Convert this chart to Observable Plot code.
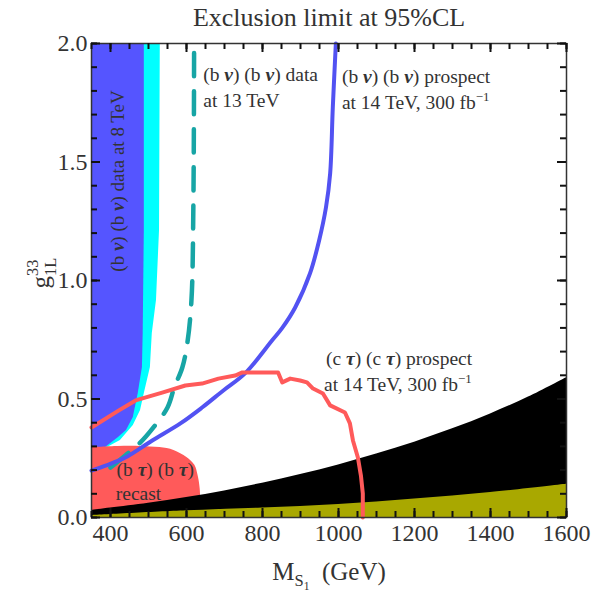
<!DOCTYPE html>
<html><head><meta charset="utf-8">
<script src="https://cdn.jsdelivr.net/npm/d3@7"></script>
<script src="https://cdn.jsdelivr.net/npm/@observablehq/plot@0.6"></script>
<style>
body{margin:0;background:#fff}
svg{font-family:"Liberation Serif",serif}
</style>
</head><body><div id="chart"></div>
<script>
// ---- axes ----
const xDomain = [350, 1600];
const yDomain = [0, 2];
const xMajorTicks = [400, 600, 800, 1000, 1200, 1400, 1600];
const xMinorTicks = [350, 400, 450, 500, 550, 600, 650, 700, 750, 800, 850, 900, 950, 1000, 1050, 1100, 1150, 1200, 1250, 1300, 1350, 1400, 1450, 1500, 1550, 1600];
const yMajorTicks = [0, 0.5, 1, 1.5, 2];
const yMinorTicks = [0, 0.1, 0.2, 0.3, 0.4, 0.5, 0.6, 0.7, 0.8, 0.9, 1, 1.1, 1.2, 1.3, 1.4, 1.5, 1.6, 1.7, 1.8, 1.9, 2];

// ---- (b nu)(b nu) data at 8 TeV: excluded region boundary (coupling, mass) ----
const data8Coupling = [0.274, 0.295, 0.338, 0.367, 0.422, 0.523, 0.633, 0.776, 1.211, 2.0];
const data8Mass     = [350,   387,   421,   442,   460,   473,   484,   486,   489,   489];
// cyan band around the 8 TeV limit
const band8Coupling = [0.274, 0.291, 0.325, 0.388, 0.451, 0.523, 0.633, 0.776, 0.916, 1.211, 2.0];
const band8Mass     = [350,   387,   426,   460,   479,   489,   505,   510,   521,   529,   531];

// ---- (b nu)(b nu) data at 13 TeV (dashed) ----
const data13Mass     = [400,   439,   476,   513,   550,   568,   589,   602,   613,   618,   620];
const data13Coupling = [0.211, 0.262, 0.312, 0.380, 0.464, 0.549, 0.633, 0.734, 0.916, 1.308, 2.0];

// ---- (b nu)(b nu) prospect at 14 TeV ----
const bnuProspMass     = [350,   387,   439,   510,   584,   641,   697,   754,   825,   852,   886,   925,   949,   967,   978,   985,   993];
const bnuProspCoupling = [0.198, 0.219, 0.253, 0.325, 0.397, 0.464, 0.536, 0.608, 0.747, 0.800, 0.886, 1.030, 1.169, 1.308, 1.451, 1.730, 2.0];

// ---- (c tau)(c tau) prospect at 14 TeV ----
const ctauMass     = [350,   421,   466,   536,   597,   641,   684,   728,   747,   802,   841,   852,   873,   899,   917,   933,   959,   978,   1017,  1030,  1038,  1051,  1059,  1064,  1064];
const ctauCoupling = [0.380, 0.451, 0.494, 0.527, 0.557, 0.565, 0.586, 0.599, 0.612, 0.612, 0.612, 0.570, 0.586, 0.578, 0.570, 0.544, 0.523, 0.473, 0.443, 0.397, 0.325, 0.253, 0.177, 0.101, 0.0];

// ---- (b tau)(b tau) recast excluded region ----
const btauMass     = [350,   420,   480,   530,   567,   601,   622,   630,  636,  638];
const btauCoupling = [0.295, 0.300, 0.300, 0.295, 0.283, 0.253, 0.220, 0.180, 0.120, 0.0];

// ---- black region (bottom) ----
const blackMass     = [350,  400,  500,  600,   700,   800,   900,   1000,  1100,  1200,  1300,  1400,  1500,  1600];
const blackCoupling = [0.030, 0.040, 0.060, 0.084, 0.112, 0.145, 0.181, 0.222, 0.268, 0.318, 0.374, 0.437, 0.508, 0.590];

// ---- olive region (bottom) ----
const oliveMass     = [350,   600,   800,  1000,  1200,  1400,  1600];
const oliveCoupling = [0.008, 0.028, 0.04, 0.055, 0.078, 0.105, 0.14];

// ---- annotations ----
const labels = [
  {t: "(b *ν*) (b *ν*) data", x: 644, y: 1.87},
  {t: "at 13 TeV", x: 644, y: 1.76},
  {t: "(b *ν*) (b *ν*) prospect", x: 1009, y: 1.86},
  {t: "at 14 TeV, 300 fb^{−1}", x: 1009, y: 1.75},
  {t: "(c *τ*) (c *τ*) prospect", x: 967, y: 0.67},
  {t: "at 14 TeV, 300 fb^{−1}", x: 962, y: 0.56},
  {t: "(b *τ*) (b *τ*)", x: 416, y: 0.20},
  {t: "recast", x: 414, y: 0.10}
];
const rotLabels = [{t: "(b *ν*) (b *ν*) data at 8 TeV", x: 420, y: 1.42}];

const zip = (xs, ys) => xs.map((x, i) => ({x, y: ys[i]}));
const ink = "#333";
const W = 592, H = 591, mT = 43, mL = 91, mR = 26, mB = 74;
const fw = W - mL - mR, fh = H - mT - mB;
const minorPx = 6, majorPx = 9;
const tickStyle = {stroke: "#111", strokeWidth: 2};

const plot = Plot.plot({
  width: W, height: H,
  marginTop: mT, marginLeft: mL, marginRight: mR, marginBottom: mB,
  x: {domain: xDomain},
  y: {domain: yDomain},
  style: {fontFamily: "Liberation Serif, serif", fontSize: "19px", color: ink, background: "white"},
  marks: [
    Plot.areaX(zip(band8Mass, band8Coupling), {y: "y", x1: xDomain[0], x2: "x", fill: "#00ffff"}),
    Plot.areaX(zip(data8Mass, data8Coupling), {y: "y", x1: xDomain[0], x2: "x", fill: "#5555ff"}),
    Plot.areaY(zip(btauMass, btauCoupling), {x: "x", y1: 0, y2: "y", fill: "#ff5a5a", curve: "catmull-rom"}),
    Plot.areaY(zip(blackMass, blackCoupling), {x: "x", y1: 0, y2: "y", fill: "#000", curve: "catmull-rom"}),
    Plot.areaY(zip(oliveMass, oliveCoupling), {x: "x", y1: 0, y2: "y", fill: "#a9a800", curve: "catmull-rom"}),
    Plot.line(zip(data13Mass, data13Coupling), {x: "x", y: "y", stroke: "#17a5a5", strokeWidth: 4.5, strokeDasharray: "23,15", curve: "catmull-rom"}),
    Plot.line(zip(bnuProspMass, bnuProspCoupling), {x: "x", y: "y", stroke: "#5252f2", strokeWidth: 4, curve: "catmull-rom"}),
    Plot.line(zip(ctauMass, ctauCoupling), {x: "x", y: "y", stroke: "#ff5a5a", strokeWidth: 4, strokeLinejoin: "round"}),
    Plot.frame({stroke: ink, strokeWidth: 1.5}),
    // inward ticks on all four sides (pixel lengths via insets)
    Plot.tickX(xMinorTicks, {x: d => d, insetTop: fh - minorPx, ...tickStyle}),
    Plot.tickX(xMajorTicks, {x: d => d, insetTop: fh - majorPx, ...tickStyle}),
    Plot.tickX(xMinorTicks, {x: d => d, insetBottom: fh - minorPx, ...tickStyle}),
    Plot.tickX(xMajorTicks, {x: d => d, insetBottom: fh - majorPx, ...tickStyle}),
    Plot.tickY(yMinorTicks, {y: d => d, insetRight: fw - minorPx, ...tickStyle}),
    Plot.tickY(yMajorTicks, {y: d => d, insetRight: fw - majorPx, ...tickStyle}),
    Plot.tickY(yMinorTicks, {y: d => d, insetLeft: fw - minorPx, ...tickStyle}),
    Plot.tickY(yMajorTicks, {y: d => d, insetLeft: fw - majorPx, ...tickStyle}),
    // tick labels
    Plot.axisX(xMajorTicks, {anchor: "bottom", tickSize: 0, tickPadding: 6, label: null, fontSize: 24, tickFormat: d => String(d)}),
    Plot.axisY(yMajorTicks, {anchor: "left", tickSize: 0, tickPadding: 4, label: null, fontSize: 24, tickFormat: d3.format(".1f")}),
    // annotations
    Plot.text(labels, {x: "x", y: "y", text: "t", textAnchor: "start", fontSize: 19.5, fill: ink}),
    Plot.text(rotLabels, {x: "x", y: "y", text: "t", rotate: -90, fontSize: 19, fill: ink}),
    Plot.text(["Exclusion limit at 95%CL"], {frameAnchor: "top", lineAnchor: "middle", dy: -26, fontSize: 26, fill: ink}),
    Plot.text(["M_{S}~{1}  (GeV)"], {frameAnchor: "bottom", lineAnchor: "middle", dy: 54, fontSize: 25, fill: ink}),
    Plot.text(["g^{33}&{1L}"], {frameAnchor: "left", lineAnchor: "middle", dx: -51, dy: 8, rotate: -90, fontSize: 25, fill: ink})
  ]
});
document.getElementById("chart").appendChild(plot);

// rich text: *x* bold italic, ^{x} superscript, _{x} subscript, ~{x} sub-subscript, &{x} subscript stacked under previous
function rich(el) {
  const s = el.textContent;
  if (!/(\*|\^\{|_\{|~\{|&\{)/.test(s)) return;
  const fs = parseFloat(getComputedStyle(el).fontSize) || 16;
  el.textContent = "";
  const re = /\*([^*]+)\*|\^\{([^}]*)\}|_\{([^}]*)\}|~\{([^}]*)\}|&\{([^}]*)\}|([^*^_~&]+)/g;
  let m, cur = 0, prev = null;
  while ((m = re.exec(s))) {
    const t = document.createElementNS("http://www.w3.org/2000/svg", "tspan");
    let target = 0, size = fs;
    if (m[1]) { t.textContent = m[1]; t.setAttribute("font-weight", "bold"); t.setAttribute("font-style", "italic"); }
    else if (m[2]) { t.textContent = m[2]; target = -0.42 * fs; size = 0.66 * fs; }
    else if (m[3]) { t.textContent = m[3]; target = 0.25 * fs; size = 0.66 * fs; }
    else if (m[4]) { t.textContent = m[4]; target = 0.42 * fs; size = 0.46 * fs; }
    else if (m[5]) { t.textContent = m[5]; target = 0.3 * fs; size = 0.66 * fs;
      if (prev) { const w = prev.getComputedTextLength(); t.setAttribute("dx", -w); } }
    else { t.textContent = m[6]; }
    t.setAttribute("font-size", size);
    if (target !== cur) { t.setAttribute("dy", target - cur); cur = target; }
    el.appendChild(t);
    prev = t;
  }
}
d3.select(plot).selectAll("text").each(function() { rich(this); });
</script>
</body></html>
